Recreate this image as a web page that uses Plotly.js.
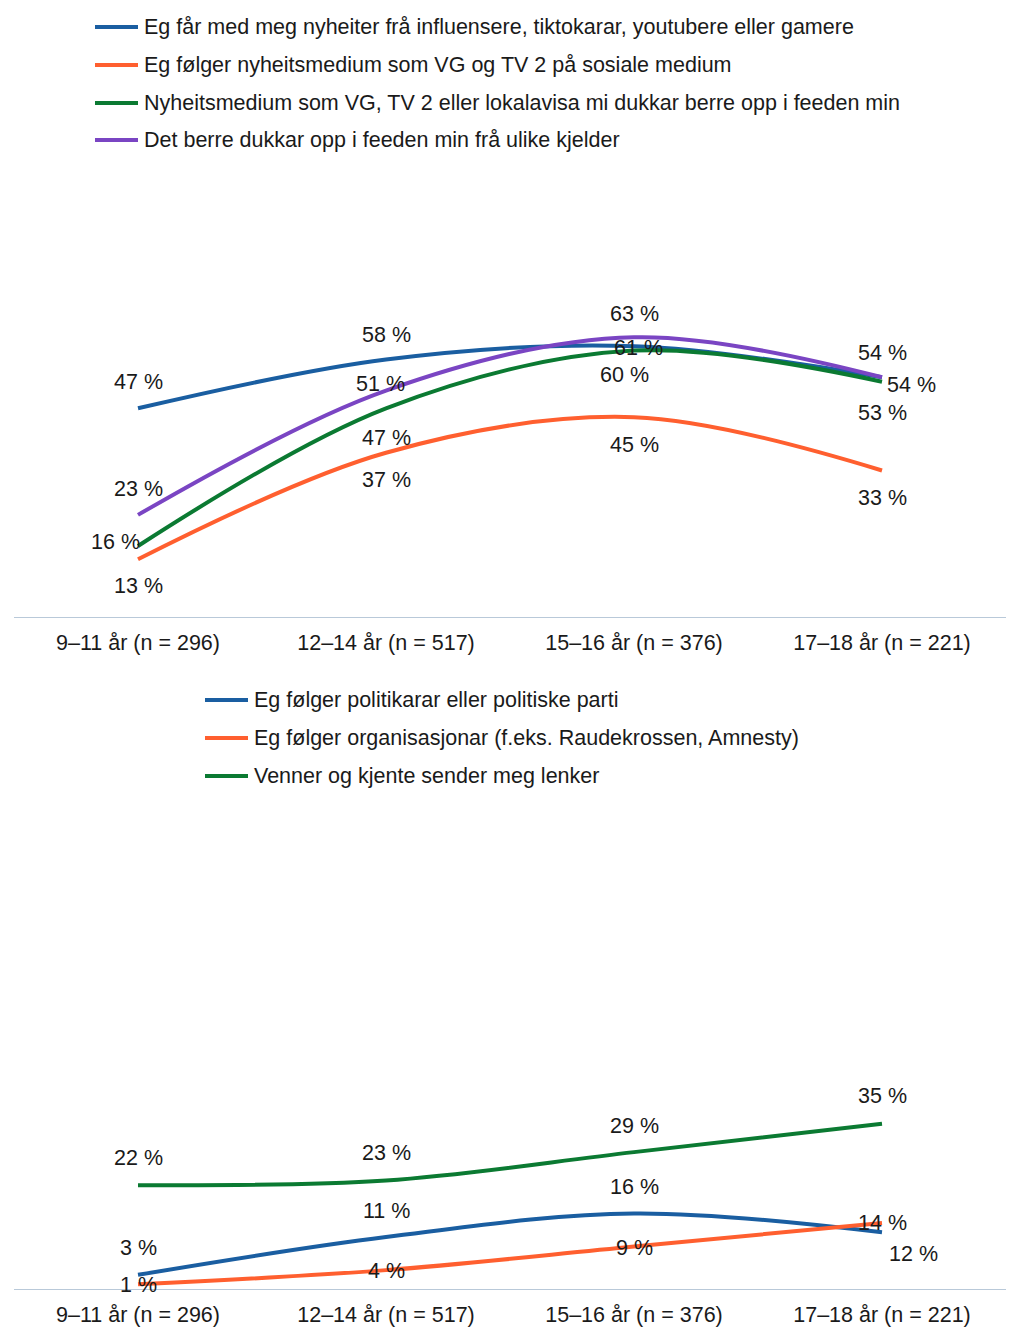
<!DOCTYPE html>
<html><head><meta charset="utf-8">
<script src="https://cdn.plot.ly/plotly-3.0.1.min.js"></script>
<style>body{margin:0;background:#fff}#c1{width:1020px;height:669px;border-bottom:2px solid #999;box-sizing:border-box}#c2{width:1020px;height:668px}</style>
</head><body><div id="c1"></div><div id="c2"></div>
<script>
const categories=["9–11 år (n = 296)","12–14 år (n = 517)","15–16 år (n = 376)","17–18 år (n = 221)"];
const names1=["Eg får med meg nyheiter frå influensere, tiktokarar, youtubere eller gamere","Eg følger nyheitsmedium som VG og TV 2 på sosiale medium","Nyheitsmedium som VG, TV 2 eller lokalavisa mi dukkar berre opp i feeden min","Det berre dukkar opp i feeden min frå ulike kjelder"];
const influensere=[47,58,61,54];
const nyheitsmedium=[13,37,45,33];
const feedenMedium=[16,47,60,53];
const ulikeKjelder=[23,51,63,54];
const names2=["Eg følger politikarar eller politiske parti","Eg følger organisasjonar (f.eks. Raudekrossen, Amnesty)","Venner og kjente sender meg lenker"];
const politikarar=[3,11,16,12];
const organisasjonar=[1,4,9,14];
const venner=[22,23,29,35];
const colors=["#1a5ea1","#ff5f2f","#0b7a32","#7a45c3"];
const F={family:"Liberation Sans, Arial, sans-serif",size:21.5,color:"#1a1a1a"};
function tr(name,y,c){return {x:categories,y:y,name:name,type:"scatter",mode:"lines",
 line:{color:c,width:4,shape:"spline"},hoverinfo:"skip"};}
function labels(y,offs){return y.map((v,i)=>({x:categories[i],y:v,xref:"x",yref:"y",text:v+" %",showarrow:false,
 font:F,xshift:offs[i][0],yshift:offs[i][1]}));}
function legend(names,x0,rows,toPaper){let sh=[],an=[];names.forEach((n,i)=>{const py=toPaper(rows[i]);
 sh.push({type:"line",xref:"paper",yref:"paper",x0:(x0-14)/992,x1:(x0+43-14)/992,y0:py,y1:py,line:{color:colors[i],width:4}});
 an.push({xref:"paper",yref:"paper",x:(x0+47-14)/992,y:py,xanchor:"left",yanchor:"middle",showarrow:false,text:n,font:F});});return {sh,an};}
function lay(t,b,h){return {width:1020,height:h,margin:{l:14,r:14,t:t,b:b},showlegend:false,
 xaxis:{type:"category",range:[-0.5,3.5],showline:true,linecolor:"#b9c9d9",linewidth:1,ticks:"",tickfont:F,ticklabelstandoff:6,showgrid:false,fixedrange:true},
 yaxis:{range:[0,100],visible:false,fixedrange:true},paper_bgcolor:"#fff",plot_bgcolor:"#fff",font:F};}
// top chart
const d1=[tr(names1[0],influensere,colors[0]),tr(names1[1],nyheitsmedium,colors[1]),tr(names1[2],feedenMedium,colors[2]),tr(names1[3],ulikeKjelder,colors[3])];
const l1=lay(173,52,669);
const g1=legend(names1,95,[27,65,103,140],py=>(617-py)/444);
l1.shapes=g1.sh;
l1.annotations=g1.an
 .concat(labels(influensere,[[0,26],[0,24],[4,-2],[29,-8]]))
 .concat(labels(nyheitsmedium,[[0,-27],[0,-27],[0,-28],[0,-28]]))
 .concat(labels(feedenMedium,[[-23,4],[0,-30],[-10,-24],[0,-31]]))
 .concat(labels(ulikeKjelder,[[0,26],[-6,7],[0,23],[0,24]]));
Plotly.newPlot("c1",d1,l1,{staticPlot:true});
// bottom chart
const d2=[tr(names2[0],politikarar,colors[0]),tr(names2[1],organisasjonar,colors[1]),tr(names2[2],venner,colors[2])];
const l2=lay(148,48,668);
const g2=legend(names2,205,[700,738,776],py=>(1289-py)/472);
l2.shapes=g2.sh;
l2.annotations=g2.an
 .concat(labels(politikarar,[[0,27],[0,26],[0,26],[31,-22]]))
 .concat(labels(organisasjonar,[[0,-1],[0,-1],[0,-1],[0,0]]))
 .concat(labels(venner,[[0,27],[0,27],[0,26],[0,28]]));
Plotly.newPlot("c2",d2,l2,{staticPlot:true});
</script></body></html>
